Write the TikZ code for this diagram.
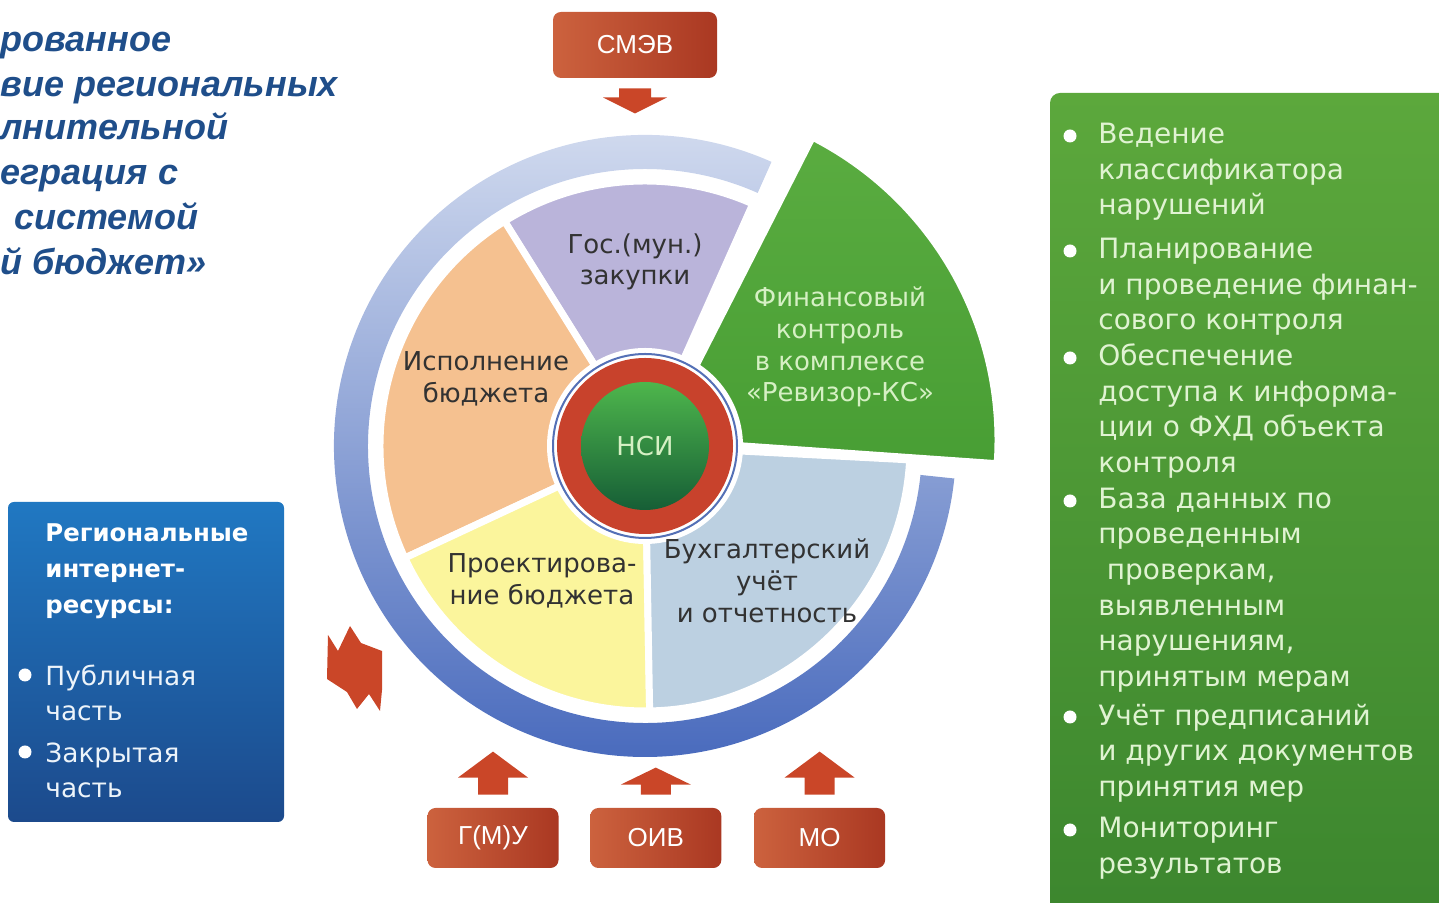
\documentclass[tikz,border=0pt]{standalone}
\usepackage{fontspec}
\setmainfont{DejaVu Sans}
\newfontfamily\arialfont{Liberation Sans}
\usepackage{tikz}
\usetikzlibrary{positioning, calc}
\definecolor{titleblue}{RGB}{31,78,138}
\definecolor{boxlight}{RGB}{204,98,62}
\definecolor{boxdark}{RGB}{170,56,34}
\definecolor{arrowred}{RGB}{202,70,40}
\definecolor{ringlight}{RGB}{216,224,241}
\definecolor{ringdark}{RGB}{70,104,188}
\definecolor{segpurple}{RGB}{186,180,218}
\definecolor{segorange}{RGB}{245,193,144}
\definecolor{segyellow}{RGB}{251,245,156}
\definecolor{segblue}{RGB}{188,208,225}
\definecolor{segtext}{RGB}{50,50,50}
\definecolor{wedgegreen}{RGB}{90,172,64}
\definecolor{wedgedark}{RGB}{72,158,52}
\definecolor{wedgetext}{RGB}{214,240,196}
\definecolor{nsiedge}{RGB}{84,112,182}
\definecolor{nsired}{RGB}{200,66,44}
\definecolor{nsigreen}{RGB}{78,182,76}
\definecolor{nsidark}{RGB}{22,94,54}
\definecolor{listgreen}{RGB}{92,168,60}
\definecolor{listdark}{RGB}{60,134,46}
\definecolor{listtext}{RGB}{224,243,210}
\definecolor{resblue}{RGB}{32,120,194}
\definecolor{resdark}{RGB}{28,74,140}
\tikzset{
  titleline/.style={anchor=base west, inner sep=0pt, text=titleblue,
    font=\arialfont\bfseries\itshape\fontsize{18}{22}\selectfont},
  srcbox/.style={rectangle, rounded corners=4pt, left color=boxlight, right color=boxdark,
    minimum width=65.5pt, minimum height=30pt, text=white,
    font=\arialfont\fontsize{13}{15}\selectfont},
  seglabel/.style={align=center, inner sep=0pt, text=segtext,
    font=\fontsize{13}{15.85}\selectfont},
  reshead/.style={anchor=west, align=left, inner sep=0pt, text=white,
    font=\bfseries\fontsize{12.2}{18}\selectfont},
  resitem/.style={anchor=west, align=left, inner sep=0pt, text=white!92!resblue,
    font=\fontsize{13.2}{17.5}\selectfont},
  listitem/.style={anchor=west, align=left, inner sep=0pt, text=listtext,
    font=\fontsize{14}{17.85}\selectfont},
  dot/.style={fill=white},
  blockarrow/.style={fill=arrowred}
}

\begin{document}
\begin{tikzpicture}[x=0.5pt, y=0.5pt]
  \useasboundingbox (0,0) rectangle (1439,903);

  % Title, cut at the left edge
  \foreach \txt/\xx/\yy [count=\i] in {рованное/0/851, вие региональных/0/806,
      лнительной/0/763, еграция с/0/718, системой/14/673, й бюджет»/0/628}
    \node[titleline] (title\i) at (\xx,\yy) {\txt};

  % Wheel
  \coordinate (c) at (645,457);
  \begin{scope}[shift={(c)}]
    \shade[top color=ringlight, bottom color=ringdark]
      (66:311) arc[start angle=66, end angle=354, radius=311]
      -- (354:277) arc[start angle=354, end angle=66, radius=277] -- cycle;
    \foreach \a/\b/\col in {66/122/segpurple, 122/205/segorange,
        205/271/segyellow, 271/357/segblue}
      \filldraw[fill=\col, draw=white, line width=3.5pt]
        (0,0) -- (\a:265) arc[start angle=\a, end angle=\b, radius=265] -- cycle;
    \shade[top color=wedgegreen, bottom color=wedgedark, draw=white, line width=3.5pt]
      (13,6) -- ++(-4:340) arc[start angle=-4, end angle=63, radius=340] -- cycle;
    % NSI hub
    \fill[white] (0,0) circle (98);
    \draw[nsiedge, line width=1pt, fill=white] (0,0) circle (92);
    \fill[nsired] (0,0) circle (88);
    \shade[top color=nsigreen, middle color=nsigreen, bottom color=nsidark] (0,0) circle (64);
  \end{scope}
  \node[text=wedgetext, font=\fontsize{13}{15}\selectfont] (nsi) at (c) {НСИ};

  \node[seglabel] (zak) at (635,641) {Гос.(мун.)\\закупки};
  \node[seglabel] (isp) at (486,524) {Исполнение\\бюджета};
  \node[seglabel, text=wedgetext] (fin) at (840,556) {Финансовый\\контроль\\в комплексе\\«Ревизор-КС»};
  \node[seglabel] (proj) at (542,322) {Проектирова-\\ние бюджета};
  \node[seglabel] (buh) at (767,322) {Бухгалтерский\\учёт\\и отчетность};

  % Sources
  \node[srcbox, minimum width=82pt, minimum height=33pt] (smev) at (635,858) {СМЭВ};
  \fill[blockarrow, shift={(smev.south)}] (-16,-10) -- (-16,-19) -- (-32,-19) -- (0,-35)
    -- (32,-19) -- (16,-19) -- (16,-10) -- cycle;

  \node[srcbox] (gmu) at (493,65) {Г(М)У};
  \node[srcbox, right=15.5pt of gmu] (oiv) {ОИВ};
  \node[srcbox, right=16pt of oiv] (mo) {МО};
  \foreach \src/\hb/\tip in {gmu/30/56, oiv/23/40, mo/30/56}
    \fill[blockarrow, shift={(\src.north)}] (-15,13) -- (-15,\hb) -- (-35,\hb) -- (0,\tip)
      -- (35,\hb) -- (15,\hb) -- (15,13) -- cycle;

  % Exchange with the internet resources
  \fill[blockarrow] (328,268) -- (338,252) -- (350,277) -- (361,260) -- (382,252)
    -- (382,213) -- (380,192) -- (369,209) -- (357,194) -- (347,211) -- (327,224) -- cycle;

  % Regional internet resources
  \node[rectangle, rounded corners=3pt, top color=resblue, bottom color=resdark,
    minimum width=138pt, minimum height=160pt] (res) at (146,241) {};
  \node[reshead] (rhead) at (45,332) {Региональные\\интернет-\\ресурсы:};
  \node[resitem] (pub) at (45,210) {Публичная\\часть};
  \node[resitem] (priv) at (45,133) {Закрытая\\часть};
  \fill[dot] (25,228) circle (6.5);
  \fill[dot] (25,151) circle (6.5);

  % Financial control functions
  \node[rectangle, rounded corners=5pt, top color=listgreen, bottom color=listdark,
    minimum width=205pt, minimum height=415pt] (ctl) at (1255,395) {};
  \node[listitem] (f1) at (1098,731) {Ведение\\классификатора\\нарушений};
  \node[listitem] (f2) at (1098,616) {Планирование\\и проведение финан-\\сового контроля};
  \node[listitem] (f3) at (1098,492) {Обеспечение\\доступа к информа-\\ции о ФХД объекта\\контроля};
  \node[listitem] (f4) at (1098,313) {База данных по\\проведенным\\\hspace{0.3em}проверкам,\\выявленным\\нарушениям,\\принятым мерам};
  \node[listitem] (f5) at (1098,150) {Учёт предписаний\\и других документов\\принятия мер};
  \node[listitem] (f6) at (1098,55) {Мониторинг\\результатов};
  \foreach \yy in {767,652,545,402,186,73}
    \fill[dot] (1070,\yy) circle (6.5);
\end{tikzpicture}
\end{document}
